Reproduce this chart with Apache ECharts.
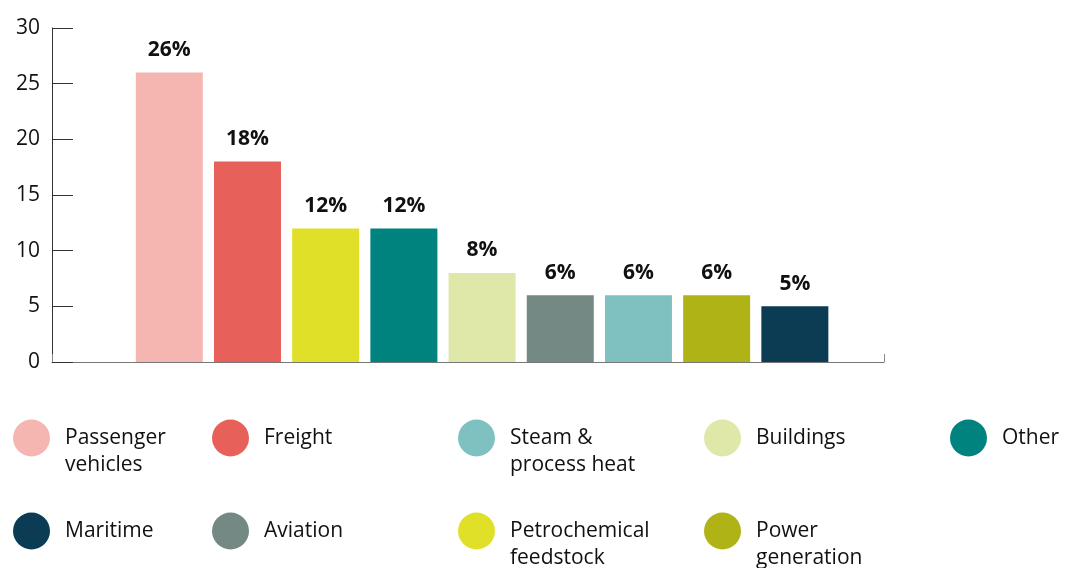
<!DOCTYPE html>
<html>
<head>
<meta charset="utf-8">
<script src="https://cdn.jsdelivr.net/npm/echarts@6/dist/echarts.min.js"></script>
<style>
  html, body { margin: 0; padding: 0; background: #fff; }
  #chart { width: 1066px; height: 568px; }
</style>
</head>
<body>
<div id="chart"></div>
<script>
// Share by sector, in bar order (left to right)
const sectors = [
  'Passenger vehicles', 'Freight', 'Petrochemical feedstock', 'Other', 'Buildings',
  'Aviation', 'Steam & process heat', 'Power generation', 'Maritime'
];
const shares = [26, 18, 12, 12, 8, 6, 6, 6, 5];
const colors = [
  '#F5B6B2', '#E8605A', '#E1E029', '#00827F', '#DFE8A9',
  '#748884', '#7FC1C0', '#B0B316', '#0B3C53'
];
const yTicks = [0, 5, 10, 15, 20, 25, 30];

// Legend layout: wrapped label text and its grid cell (column, row)
const legendLabels = {
  'Passenger vehicles': ['Passenger', 'vehicles'],
  'Steam & process heat': ['Steam &', 'process heat'],
  'Petrochemical feedstock': ['Petrochemical', 'feedstock'],
  'Power generation': ['Power', 'generation']
};
const legendCells = [
  ['Passenger vehicles', 0, 0], ['Freight', 1, 0], ['Steam & process heat', 2, 0],
  ['Buildings', 3, 0], ['Other', 4, 0],
  ['Maritime', 0, 1], ['Aviation', 1, 1], ['Petrochemical feedstock', 2, 1],
  ['Power generation', 3, 1]
];
const legendColLeft = [13, 212, 458, 704, 950];
const legendRowCenter = [438, 531];

const FONT = '"Open Sans", Lato, sans-serif';
const X_MAX = 10.64;
const ICON = 37;
const LINE_H = 27;

const series = sectors.map((name, i) => ({
  name: name,
  type: 'bar',
  barWidth: 67,
  barGap: '-100%',
  itemStyle: { color: colors[i] },
  label: {
    show: true,
    position: 'top',
    distance: 12,
    fontFamily: FONT,
    fontWeight: 'bold',
    fontSize: 21,
    color: '#111',
    formatter: p => p.value[1] + '%'
  },
  data: [[i + 1.5, shares[i]]]
}));

// Wrapped names get an empty line on top so the first line sits level with the dot
const legends = legendCells.map(([name, col, row]) => {
  const lines = legendLabels[name];
  const blockH = lines ? LINE_H * 3 : ICON;
  return {
    data: [name],
    left: legendColLeft[col],
    top: legendRowCenter[row] - blockH / 2,
    padding: 0,
    icon: 'circle',
    itemWidth: ICON,
    itemHeight: ICON,
    selectedMode: false,
    formatter: n => legendLabels[n] ? '\n' + legendLabels[n].join('\n') : n,
    textStyle: {
      fontFamily: FONT,
      fontSize: 21,
      color: '#111',
      lineHeight: LINE_H,
      padding: [0, 0, 0, 10]
    }
  };
});

const chart = echarts.init(document.getElementById('chart'));
chart.setOption({
  animation: false,
  backgroundColor: '#fff',
  grid: { left: 52, right: 182, top: 28, bottom: 206 },
  legend: legends,
  xAxis: {
    type: 'value',
    min: 0,
    max: X_MAX,
    interval: X_MAX,
    axisLine: { show: true, lineStyle: { color: '#777', width: 1 } },
    axisTick: { show: true, inside: true, length: 8, lineStyle: { color: '#888' } },
    axisLabel: { show: false },
    splitLine: { show: false }
  },
  yAxis: {
    type: 'value',
    min: yTicks[0],
    max: yTicks[yTicks.length - 1],
    interval: yTicks[1] - yTicks[0],
    axisLine: { show: true, lineStyle: { color: '#333', width: 1 } },
    axisTick: { show: true, inside: true, length: 21, lineStyle: { color: '#333' } },
    axisLabel: { fontFamily: FONT, fontSize: 21, color: '#111', margin: 12 },
    splitLine: { show: false }
  },
  series: series
});
</script>
</body>
</html>
